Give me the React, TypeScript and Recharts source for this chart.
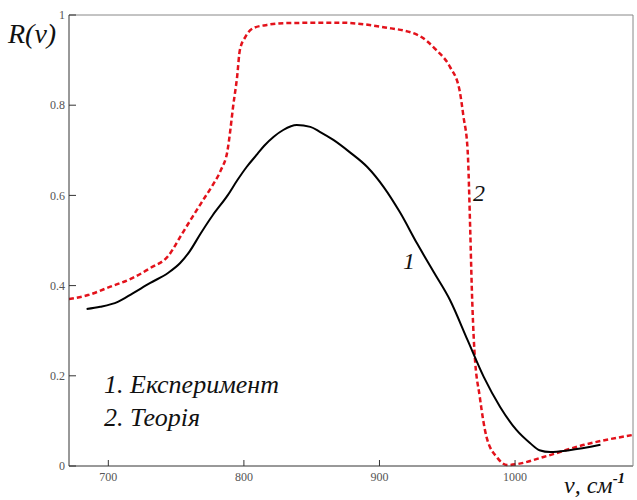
import { LineChart, Line, XAxis, YAxis } from "recharts";

// експеримент (крива 1)
const expNu = [684, 694, 707, 718, 731, 744, 753, 760, 768, 777, 788, 795, 802, 810, 815, 822, 829, 839, 849, 856, 866, 878, 891, 903, 915, 928, 940, 952, 965, 977, 989, 1001, 1011, 1018, 1026, 1040, 1063];
const expR = [0.348, 0.353, 0.364, 0.383, 0.406, 0.428, 0.45, 0.476, 0.515, 0.556, 0.6, 0.633, 0.663, 0.692, 0.71, 0.73, 0.745, 0.756, 0.752, 0.741, 0.723, 0.696, 0.663, 0.619, 0.563, 0.492, 0.43, 0.368, 0.279, 0.197, 0.131, 0.08, 0.051, 0.035, 0.031, 0.035, 0.047];

// теорія (крива 2)
const theoryNu = [671, 685, 701, 718, 731, 744, 754, 762, 770, 777, 783, 788, 790, 792, 795, 797, 801, 807, 817, 830, 870, 903, 928, 942, 952, 959, 962, 965, 967, 968, 970, 974, 979, 987, 994, 1001, 1021, 1051, 1087];
const theoryR = [0.37, 0.379, 0.397, 0.417, 0.439, 0.465, 0.513, 0.552, 0.59, 0.623, 0.656, 0.701, 0.745, 0.796, 0.863, 0.922, 0.951, 0.971, 0.978, 0.982, 0.983, 0.973, 0.956, 0.922, 0.885, 0.834, 0.774, 0.701, 0.517, 0.405, 0.257, 0.153, 0.064, 0.018, 0.002, 0.004, 0.02, 0.047, 0.069];

const xTicks = [700, 800, 900, 1000];
const yTicks = [0, 0.2, 0.4, 0.6, 0.8, 1];

const expData = expNu.map((nu, i) => ({ nu, r: expR[i] }));
const theoryData = theoryNu.map((nu, i) => ({ nu, r: theoryR[i] }));

const serif = "Times New Roman";
const tickStyle = { fontSize: 12, fill: "#555", fontFamily: serif };

export default function App() {
  return (
    <div style={{ position: "absolute", left: 0, top: 0, width: 637, height: 500, background: "#fff" }}>
      <LineChart width={637} height={500} margin={{ top: 0, right: 0, bottom: 0, left: 0 }}>
        <XAxis
          dataKey="nu"
          type="number"
          domain={[671, 1087]}
          allowDataOverflow
          ticks={xTicks}
          height={34}
          tickSize={-6}
          tickMargin={12}
          tick={tickStyle}
          axisLine={{ stroke: "#333" }}
          tickLine={{ stroke: "#333" }}
        />
        <XAxis
          xAxisId="top"
          orientation="top"
          type="number"
          domain={[671, 1087]}
          ticks={xTicks}
          height={15}
          tickSize={-6}
          tick={false}
          axisLine={{ stroke: "#888" }}
          tickLine={{ stroke: "#333" }}
        />
        <YAxis
          type="number"
          domain={[0, 1]}
          ticks={yTicks}
          width={69}
          tickSize={-7}
          tickMargin={11}
          tick={tickStyle}
          axisLine={{ stroke: "#333" }}
          tickLine={{ stroke: "#333" }}
        />
        <YAxis
          yAxisId="right"
          orientation="right"
          type="number"
          domain={[0, 1]}
          ticks={yTicks}
          width={4}
          tickSize={-7}
          tick={false}
          axisLine={{ stroke: "#888" }}
          tickLine={{ stroke: "#666" }}
        />
        <Line
          data={theoryData}
          dataKey="r"
          type="monotone"
          stroke="#e3121b"
          strokeWidth={2.5}
          strokeDasharray="5 3"
          dot={false}
          isAnimationActive={false}
        />
        <Line
          data={expData}
          dataKey="r"
          type="monotone"
          stroke="#000"
          strokeWidth={2}
          dot={false}
          isAnimationActive={false}
        />
      </LineChart>
      <svg width={637} height={500} style={{ position: "absolute", left: 0, top: 0, pointerEvents: "none" }}>
        <g fontFamily={serif} fontStyle="italic" fill="#111">
          <text x={8} y={43} fontSize={28}>R(ν)</text>
          <text x={564} y={493} fontSize={24}>
            ν, см<tspan dy={-10} fontSize={15} fontWeight="bold">-1</tspan>
          </text>
          <text x={104} y={393} fontSize={26}>1. Експеримент</text>
          <text x={104} y={426} fontSize={26}>2. Теорія</text>
          <text x={473} y={201} fontSize={24}>2</text>
          <text x={403} y={269} fontSize={24}>1</text>
        </g>
      </svg>
    </div>
  );
}
